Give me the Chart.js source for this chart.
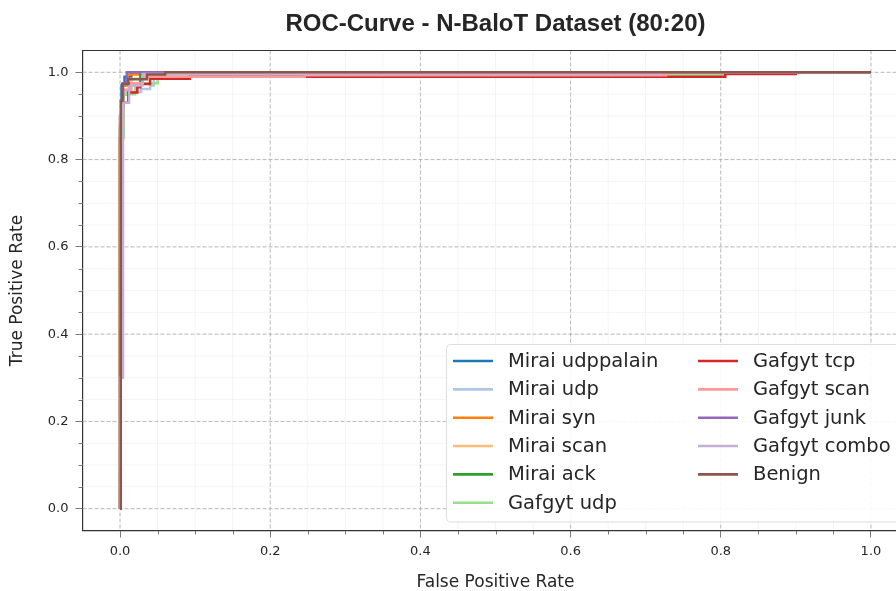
<!DOCTYPE html>
<html>
<head>
<meta charset="utf-8">
<script src="https://cdn.jsdelivr.net/npm/chart.js@4.4.1/dist/chart.umd.min.js"></script>
<style>
  html, body { margin: 0; padding: 0; background: #fff; }
  #wrap { width: 896px; height: 591px; overflow: hidden; position: relative; }
  canvas { display: block; }
</style>
</head>
<body>
<div id="wrap"><canvas id="roc" width="930" height="591"></canvas></div>
<script>
// ROC curve corner points (fpr / tpr pairs)
const labels = ["Mirai udppalain", "Mirai udp", "Mirai syn", "Mirai scan", "Mirai ack", "Gafgyt udp",
                "Gafgyt tcp", "Gafgyt scan", "Gafgyt junk", "Gafgyt combo", "Benign"];
const colors = ["#1f77b4", "#aec7e8", "#ff7f0e", "#ffbb78", "#2ca02c", "#98df8a",
                "#d62728", "#ff9896", "#9467bd", "#c5b0d5", "#8c564b"];

const fprMiraiUdppalain = [0, 0, 0.002, 0.002, 0.006, 0.006, 0.015, 0.015, 1];
const tprMiraiUdppalain = [0, 0.9, 0.9, 0.97, 0.97, 0.99, 0.99, 1, 1];

const fprMiraiUdp = [0, 0, 0.004, 0.004, 0.028, 0.028, 0.04, 0.04, 0.045, 0.045, 1];
const tprMiraiUdp = [0, 0.85, 0.85, 0.955, 0.955, 0.962, 0.962, 0.97, 0.97, 1, 1];

const fprMiraiSyn = [0, 0, 0.003, 0.003, 0.01, 0.01, 0.028, 0.028, 1];
const tprMiraiSyn = [0, 0.88, 0.88, 0.97, 0.97, 0.995, 0.995, 1, 1];

const fprMiraiScan = [0, 0, 0.004, 0.004, 0.015, 0.015, 0.035, 0.035, 1];
const tprMiraiScan = [0, 0.9, 0.9, 0.975, 0.975, 0.985, 0.985, 1, 1];

const fprMiraiAck = [0, 0, 0.003, 0.003, 0.012, 0.012, 0.027, 0.027, 0.077, 0.077, 1];
const tprMiraiAck = [0, 0.87, 0.87, 0.95, 0.95, 0.975, 0.975, 0.996, 0.996, 1, 1];

const fprGafgytUdp = [0, 0, 0.005, 0.005, 0.02, 0.02, 0.05, 0.05, 0.806, 0.806, 1];
const tprGafgytUdp = [0, 0.85, 0.85, 0.95, 0.95, 0.975, 0.975, 0.995, 0.995, 1, 1];

const fprGafgytTcp = [0, 0, 0.003, 0.003, 0.011, 0.011, 0.023, 0.023, 0.027, 0.027, 0.04, 0.04,
                      0.093, 0.093, 0.806, 0.806, 0.9, 0.9, 1];
const tprGafgytTcp = [0, 0.85, 0.85, 0.93, 0.93, 0.954, 0.954, 0.966, 0.966, 0.973, 0.973, 0.985,
                      0.985, 0.99, 0.99, 0.996, 0.996, 1, 1];

const fprGafgytScan = [0, 0, 0.004, 0.004, 0.015, 0.015, 0.03, 0.03, 0.246, 0.246, 0.727, 0.727, 1];
const tprGafgytScan = [0, 0.88, 0.88, 0.96, 0.96, 0.975, 0.975, 0.99, 0.99, 0.993, 0.993, 1, 1];

const fprGafgytJunk = [0, 0.002, 0.002, 0.004, 0.004, 0.009, 0.009, 1];
const tprGafgytJunk = [0, 0.85, 0.92, 0.92, 0.975, 0.975, 1, 1];

const fprGafgytCombo = [0, 0, 0.004, 0.004, 0.012, 0.012, 0.03, 0.03, 0.72, 0.72, 1];
const tprGafgytCombo = [0, 0.3, 0.3, 0.93, 0.93, 0.97, 0.97, 0.996, 0.996, 1, 1];

const fprBenign = [0, 0.001, 0.001, 0.003, 0.003, 0.011, 0.011, 0.036, 0.036, 0.06, 0.06, 1];
const tprBenign = [0, 0, 0.934, 0.934, 0.973, 0.973, 0.984, 0.984, 0.995, 0.995, 1, 1];

const fprAll = [fprMiraiUdppalain, fprMiraiUdp, fprMiraiSyn, fprMiraiScan, fprMiraiAck, fprGafgytUdp,
                fprGafgytTcp, fprGafgytScan, fprGafgytJunk, fprGafgytCombo, fprBenign];
const tprAll = [tprMiraiUdppalain, tprMiraiUdp, tprMiraiSyn, tprMiraiScan, tprMiraiAck, tprGafgytUdp,
                tprGafgytTcp, tprGafgytScan, tprGafgytJunk, tprGafgytCombo, tprBenign];

const majorTicks = [0, 0.2, 0.4, 0.6, 0.8, 1.0];
const minorStep = 0.05;

const TEXT = "#262626";

// grid, minor ticks and the top border, matplotlib style
const gridPlugin = {
    id: "mplGrid",
    beforeDatasetsDraw(chart) {
        const { ctx, chartArea: a, scales } = chart;
        const xs = scales.x, ys = scales.y;
        ctx.save();
        ctx.lineWidth = 0.8;
        for (let i = 0; i <= 20; i++) {
            const v = i * minorStep;
            const major = i % 4 === 0;
            ctx.strokeStyle = major ? "#a6a6a6" : "#e4e4e4";
            ctx.setLineDash(major ? [4, 2] : [1, 1]);
            const px = xs.getPixelForValue(v);
            ctx.beginPath(); ctx.moveTo(px, a.top); ctx.lineTo(px, a.bottom); ctx.stroke();
            const py = ys.getPixelForValue(v);
            ctx.beginPath(); ctx.moveTo(a.left, py); ctx.lineTo(a.right, py); ctx.stroke();
        }
        // minor ticks
        ctx.setLineDash([]);
        ctx.strokeStyle = "#555";
        ctx.lineWidth = 0.8;
        for (let i = 0; i <= 20; i++) {
            if (i % 4 === 0) continue;
            const v = i * minorStep;
            const px = Math.round(xs.getPixelForValue(v)) + 0.5;
            ctx.beginPath(); ctx.moveTo(px, a.bottom); ctx.lineTo(px, a.bottom + 4); ctx.stroke();
            const py = Math.round(ys.getPixelForValue(v)) + 0.5;
            ctx.beginPath(); ctx.moveTo(a.left, py); ctx.lineTo(a.left - 4, py); ctx.stroke();
        }
        ctx.restore();
    },
    afterDraw(chart) {
        const { ctx, chartArea: a } = chart;
        ctx.save();
        ctx.strokeStyle = "#333";
        ctx.lineWidth = 1.2;
        ctx.beginPath();
        ctx.moveTo(a.left, a.top); ctx.lineTo(a.right, a.top); ctx.lineTo(a.right, a.bottom);
        ctx.stroke();
        // title centred on the axes
        ctx.fillStyle = TEXT;
        ctx.font = "bold 24px 'Liberation Sans', Arial, sans-serif";
        ctx.textAlign = "center";
        ctx.textBaseline = "middle";
        ctx.fillText("ROC-Curve - N-BaloT Dataset (80:20)", (a.left + a.right) / 2, 24);
        ctx.restore();
    }
};

// two-column legend in the lower right of the axes
const legendPlugin = {
    id: "mplLegend",
    afterDraw(chart) {
        const { ctx, chartArea: a } = chart;
        const box = { x: 446, y: 344, w: a.right - 6 - 446, h: a.bottom - 9 - 344 };
        ctx.save();
        ctx.fillStyle = "rgba(255,255,255,0.92)";
        ctx.strokeStyle = "#dddddd";
        ctx.lineWidth = 1;
        ctx.beginPath();
        ctx.roundRect(box.x + 0.5, box.y + 0.5, box.w, box.h, 4);
        ctx.fill(); ctx.stroke();
        ctx.font = "19.5px 'DejaVu Sans', sans-serif";
        ctx.textBaseline = "middle";
        ctx.textAlign = "left";
        const perCol = 6;
        chart.data.datasets.forEach((ds, i) => {
            const col = Math.floor(i / perCol), row = i % perCol;
            const hx = box.x + 7 + col * 245;
            const y = 361 + row * 28.35;
            ctx.strokeStyle = ds.borderColor;
            ctx.lineWidth = 2.6;
            ctx.beginPath(); ctx.moveTo(hx, y); ctx.lineTo(hx + 40, y); ctx.stroke();
            ctx.fillStyle = TEXT;
            ctx.fillText(ds.label, hx + 55, y + 1);
        });
        ctx.restore();
    }
};

const datasets = labels.map((name, i) => ({
    label: name,
    data: fprAll[i].map((f, j) => ({ x: f, y: tprAll[i][j] })),
    borderColor: colors[i],
    backgroundColor: colors[i],
    borderWidth: 2.5,
    pointRadius: 0,
    tension: 0,
    fill: false,
    order: -i
}));

const tickFont = { family: "'DejaVu Sans', sans-serif", size: 13 };
const titleFont = { family: "'DejaVu Sans', sans-serif", size: 17, lineHeight: 1 };

new Chart(document.getElementById("roc").getContext("2d"), {
    type: "line",
    data: { datasets: datasets },
    options: {
        responsive: false,
        animation: false,
        layout: { padding: { top: 50.5, right: 21.5, left: 0, bottom: 0 } },
        plugins: {
            legend: { display: false },
            title: { display: false },
            tooltip: { enabled: false }
        },
        scales: {
            x: {
                type: "linear",
                min: -0.05,
                max: 1.05,
                afterBuildTicks: s => { s.ticks = majorTicks.map(v => ({ value: v })); },
                afterFit: s => { s.height = 60.5; },
                ticks: { color: TEXT, font: tickFont, padding: 6, maxRotation: 0,
                         callback: v => v.toFixed(1) },
                grid: { drawOnChartArea: false, tickLength: 7, tickColor: "#555", tickWidth: 0.8 },
                border: { color: "#333", width: 1.2 },
                title: { display: true, text: "False Positive Rate", color: TEXT, font: titleFont,
                         padding: { top: 0, bottom: 0 } }
            },
            y: {
                type: "linear",
                min: -0.05,
                max: 1.05,
                afterBuildTicks: s => { s.ticks = majorTicks.map(v => ({ value: v })); },
                afterFit: s => { s.width = 82.5; },
                ticks: { color: TEXT, font: tickFont, padding: 7,
                         callback: v => v.toFixed(1) },
                grid: { drawOnChartArea: false, tickLength: 7, tickColor: "#555", tickWidth: 0.8 },
                border: { color: "#333", width: 1.2 },
                title: { display: true, text: "True Positive Rate", color: TEXT, font: titleFont,
                         padding: { top: 9.5, bottom: 0 } }
            }
        }
    },
    plugins: [gridPlugin, legendPlugin]
});
</script>
</body>
</html>
